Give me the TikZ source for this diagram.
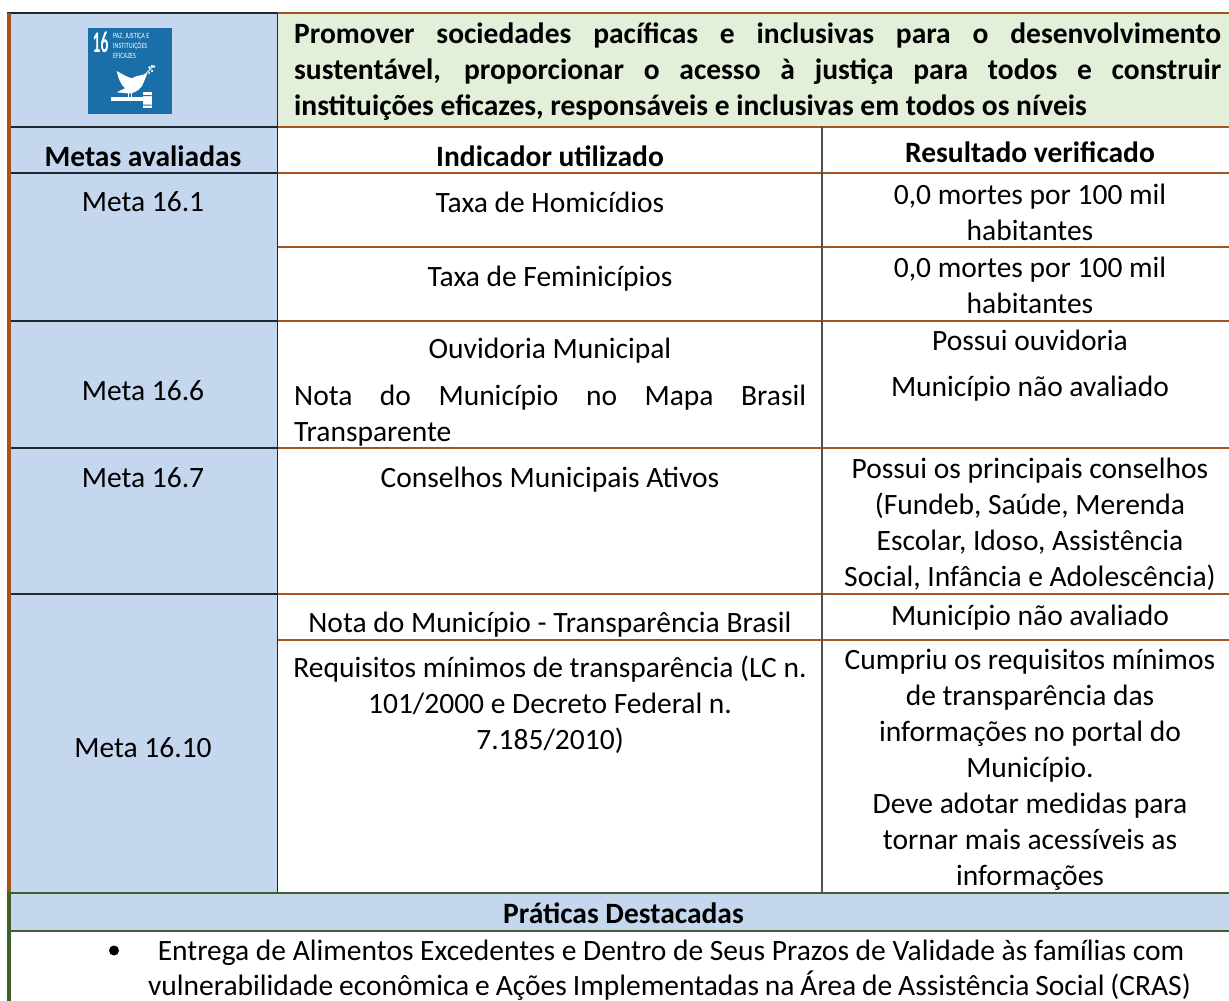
\documentclass[tikz,border=0pt]{standalone}
\usepackage{fontspec}
\setmainfont{Carlito}
\definecolor{blu}{HTML}{C5D7EF}
\definecolor{grn}{HTML}{E2EFD9}
\definecolor{brn}{HTML}{A6541E}
\definecolor{dgr}{HTML}{3F6028}
\definecolor{drk}{HTML}{20282F}
\definecolor{gry}{HTML}{505050}
\definecolor{sdg}{HTML}{1A6FA8}
\tikzset{
 x=1pt,y=-1pt,
 cell/.style={inner sep=0pt,align=center,font=\fontsize{29.5}{36}\selectfont,text=black},
 head/.style={cell,font=\fontsize{29.5}{36}\selectfont\bfseries},
 dark line/.style={line width=1.2pt,draw=drk},
 gray line/.style={line width=1.5pt,draw=gry},
 brown line/.style={line width=1.6pt,draw=brn},
 green line/.style={line width=2pt,draw=dgr},
}
\begin{document}
\begin{tikzpicture}
\useasboundingbox (0,0) rectangle (1229,1001);
\fill[blu] (9,13) rectangle (277,893);
\fill[grn] (277,13) rectangle (1229,127);
\fill[blu] (9,893) rectangle (1229,931);
% lines
\foreach \yy in {13,127,173,247,321,448,594,640}
  \draw[brown line] (277,\yy) -- (1229,\yy);
\foreach \yy in {127,173,321,448,594}
  \draw[dark line] (9,\yy) -- (277,\yy);
\draw[dark line] (7,13) -- (277,13);
\draw[dark line] (277.5,13) -- (277.5,893);
\draw[gray line] (822,126) -- (822,893);
\draw[line width=3.5pt,draw=brn] (9,13) -- (9,893);
\draw[line width=3.5pt,draw=dgr] (9,893) -- (9,1001);
\draw[green line] (7,893) -- (1229,893);
\draw[green line] (7,931) -- (1229,931);
% icon
\fill[sdg] (87.7,27.5) rectangle (171.5,113.5);
\node[font=\fontsize{30}{30}\selectfont\bfseries,text=white,inner sep=0pt] (n16) at (100.5,42.5) {\scalebox{.52}[1]{16}};
\node[font=\fontsize{8}{9.4}\selectfont,text=white,anchor=west,inner sep=0pt] (t1) at (113,36.5) {\scalebox{.76}[1]{PAZ, JUSTIÇA E}};
\node[font=\fontsize{8}{9.4}\selectfont,text=white,anchor=west,inner sep=0pt] (t2) at (113,46) {\scalebox{.76}[1]{INSTITUIÇÕES}};
\node[font=\fontsize{8}{9.4}\selectfont,text=white,anchor=west,inner sep=0pt] (t3) at (113,55.5) {\scalebox{.76}[1]{EFICAZES}};
\fill[white] (116.7,71) .. controls (122,74) and (127,77) .. (131.7,78.3) .. controls (135,77) and (138,75) .. (141.7,75) -- (147.3,73.5) -- (144,81.7) .. controls (143,85) and (141,88) .. (138.3,90) .. controls (134,93) and (130,94) .. (126.7,93.3) -- (116.7,92.3) -- (125,88.3) .. controls (121,85) and (118,78) .. (116.7,71) -- cycle;
\draw[white,line width=.8pt] (145,74.3) -- (153,66.7);
\fill[white] (154,66.5) circle (1.3) (149.5,67.5) circle (1.3) (151.8,66) circle (1.2) (152,71) circle (1.3) (149,73) circle (1.2);
\draw[white,line width=.9pt] (128.3,93) -- (128.3,98) (131.7,93) -- (131.7,98);
\fill[white] (110.7,97.3) rectangle (143,100.9);
\fill[white] (142.7,92.3) rectangle (151.7,108.3);
\fill[sdg] (142.7,95) rectangle (151.7,96) (142.7,104.5) rectangle (151.7,105.5);
% title
\node[head,anchor=north west,text width=927pt,align=justify] (title) at (294,23) {Promover sociedades pacíficas e inclusivas para o desenvolvimento\linebreak sustentável, proporcionar o acesso à justiça para todos e construir\linebreak instituições eficazes, responsáveis e inclusivas em todos os níveis};
% headers
\node[head] (h1) at (143,156) {Metas avaliadas};
\node[head] (h2) at (550,156) {Indicador utilizado};
\node[head] (h3) at (1030,152) {Resultado verificado};
% col 1
\node[cell] (m1) at (143,202) {Meta 16.1};
\node[cell] (m2) at (143,391) {Meta 16.6};
\node[cell] (m3) at (143,478) {Meta 16.7};
\node[cell] (m4) at (143,748) {Meta 16.10};
% col 2
\node[cell] (i1) at (550,202) {Taxa de Homicídios};
\node[cell] (i2) at (550,279) {Taxa de Feminicípios};
\node[cell] (i3) at (550,351) {Ouvidoria Municipal};
\node[cell,anchor=north west,text width=512pt,align=justify] (i4) at (294,385) {Nota do Município no Mapa Brasil\linebreak Transparente};
\node[cell] (i5) at (550,480) {Conselhos Municipais Ativos};
\node[cell] (i6) at (550,625) {Nota do Município - Transparência Brasil};
\node[cell] (i7) at (550,705) {Requisitos mínimos de transparência (LC n.\\101/2000 e Decreto Federal n.\\7.185/2010)};
% col 3
\node[cell] (r1) at (1030,212) {0,0 mortes por 100 mil\\habitantes};
\node[cell] (r2) at (1030,285) {0,0 mortes por 100 mil\\habitantes};
\node[cell] (r3) at (1030,340) {Possui ouvidoria};
\node[cell] (r4) at (1030,389) {Município não avaliado};
\node[cell] (r5) at (1030,524) {Possui os principais conselhos\\(Fundeb, Saúde, Merenda\\Escolar, Idoso, Assistência\\Social, Infância e Adolescência)};
\node[cell] (r6) at (1030,618) {Município não avaliado};
\node[cell] (r7) at (1030,770) {Cumpriu os requisitos mínimos\\de transparência das\\informações no portal do\\Município.\\Deve adotar medidas para\\tornar mais acessíveis as\\informações};
% bottom
\node[head] (p) at (623.5,913) {Práticas Destacadas};
\fill[black] (114,950.5) circle (5);
\node[cell,anchor=base] (b1) at (671,960) {Entrega de Alimentos Excedentes e Dentro de Seus Prazos de Validade às famílias com};
\node[cell,anchor=base] (b2) at (669.5,995.5) {\spaceskip=.2em vulnerabilidade econômica e Ações Implementadas na Área de Assistência Social (CRAS)};
\end{tikzpicture}
\end{document}
